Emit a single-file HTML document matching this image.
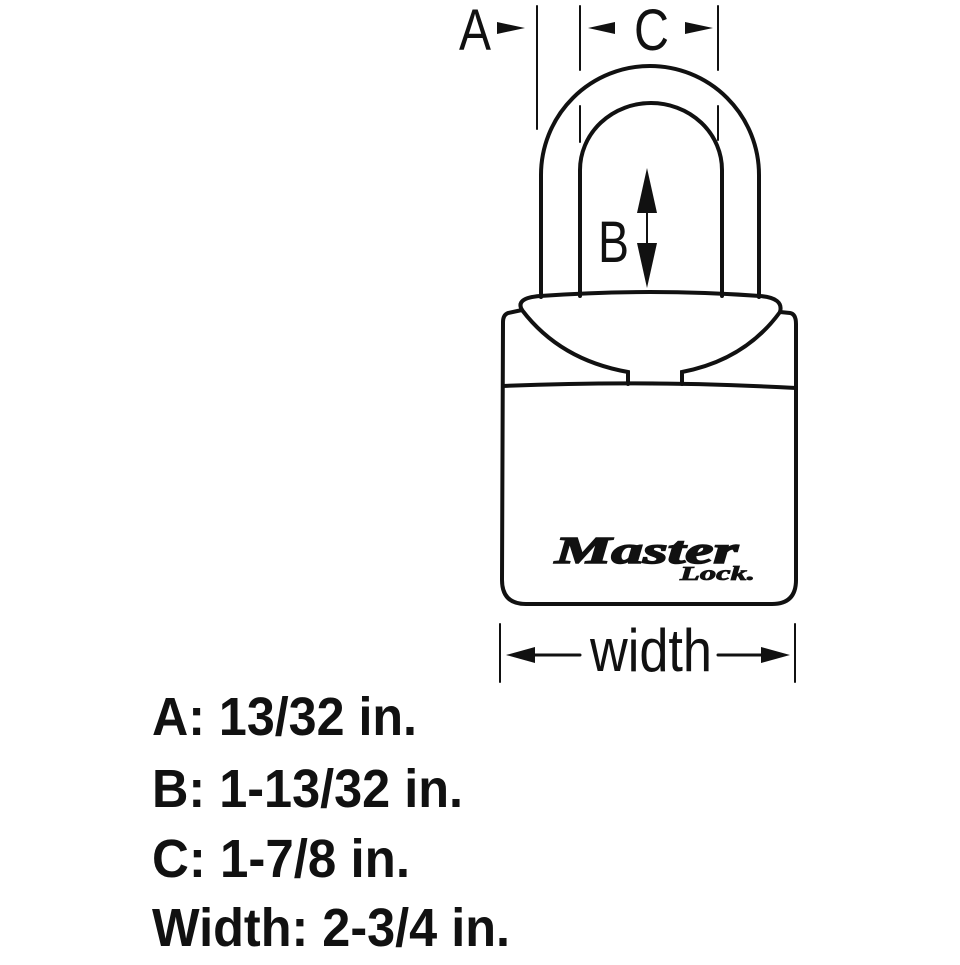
<!DOCTYPE html>
<html><head><style>html,body{margin:0;padding:0;background:#fff}</style></head><body>
<svg width="960" height="960" viewBox="0 0 960 960" xmlns="http://www.w3.org/2000/svg">
<rect width="960" height="960" fill="#fff"/>
<g fill="none" stroke="#111" stroke-linecap="round">
<line x1="537" y1="6" x2="537" y2="129" stroke-width="2"/>
<line x1="580" y1="6" x2="580" y2="70" stroke-width="2"/>
<line x1="580" y1="106" x2="580" y2="142" stroke-width="2"/>
<line x1="718" y1="6" x2="718" y2="70" stroke-width="2"/>
<line x1="718" y1="106" x2="718" y2="140" stroke-width="2"/>
<path d="M541 297 L541 175 A109 109 0 0 1 759 175 L759 297" stroke-width="4"/>
<path d="M580 296 L580 170 A71 67 0 0 1 722 170 L722 296" stroke-width="4"/>
<line x1="647" y1="200" x2="647" y2="260" stroke-width="2"/>
<path d="M522 310 Q515 298 540 296 Q650 288 760 296 Q784 298 780 312" stroke-width="4"/>
<path d="M522 310 Q560 360 628 372 L628 384 M780 312 Q745 360 682 372 L682 384" stroke-width="4"/>
<path d="M522 310 L508 313 Q503 315 503 322 L502 580 Q502 604 526 604 L772 604 Q796 604 796 580 L796 324 Q796 314 790 313 L780 312" stroke-width="4"/>
<path d="M503 386 Q650 380 796 388" stroke-width="4"/>
<line x1="500" y1="624" x2="500" y2="682" stroke-width="2"/>
<line x1="795" y1="624" x2="795" y2="682" stroke-width="2"/>
<line x1="520" y1="655" x2="580" y2="655" stroke-width="3"/>
<line x1="718" y1="655" x2="775" y2="655" stroke-width="3"/>
</g>
<g fill="#111">
<polygon points="497,22 525,28 497,34"/>
<polygon points="588,28 615,22 615,34"/>
<polygon points="713,28 685,22 685,34"/>
<polygon points="647,168 637,213 657,213"/>
<polygon points="647,288 637,243 657,243"/>
<polygon points="506,655 535,647 535,663"/>
<polygon points="790,655 761,647 761,663"/>
</g>
<g font-family="Liberation Sans, sans-serif" fill="#111">
<text x="459" y="50" font-size="58" textLength="32" lengthAdjust="spacingAndGlyphs">A</text>
<text x="634" y="50" font-size="58" textLength="35" lengthAdjust="spacingAndGlyphs">C</text>
<text x="598" y="262" font-size="58" textLength="31" lengthAdjust="spacingAndGlyphs">B</text>
<text x="590" y="671" font-size="60" textLength="122" lengthAdjust="spacingAndGlyphs">width</text>
<text x="555" y="563" font-size="38" font-weight="bold" font-style="italic" font-family="Liberation Serif, serif" stroke="#111" stroke-width="1.5" textLength="183" lengthAdjust="spacingAndGlyphs">Master</text>
<text x="680" y="580" font-size="20" font-weight="bold" font-style="italic" font-family="Liberation Serif, serif" stroke="#111" stroke-width="0.8" textLength="75" lengthAdjust="spacingAndGlyphs">Lock.</text>
<g font-weight="bold" font-size="54">
<text x="152" y="735" textLength="265" lengthAdjust="spacingAndGlyphs">A: 13/32 in.</text>
<text x="152" y="807" textLength="311" lengthAdjust="spacingAndGlyphs">B: 1-13/32 in.</text>
<text x="152" y="877" textLength="258" lengthAdjust="spacingAndGlyphs">C: 1-7/8 in.</text>
<text x="152" y="946" textLength="358" lengthAdjust="spacingAndGlyphs">Width: 2-3/4 in.</text>
</g>
</g>
</svg>
</body></html>
